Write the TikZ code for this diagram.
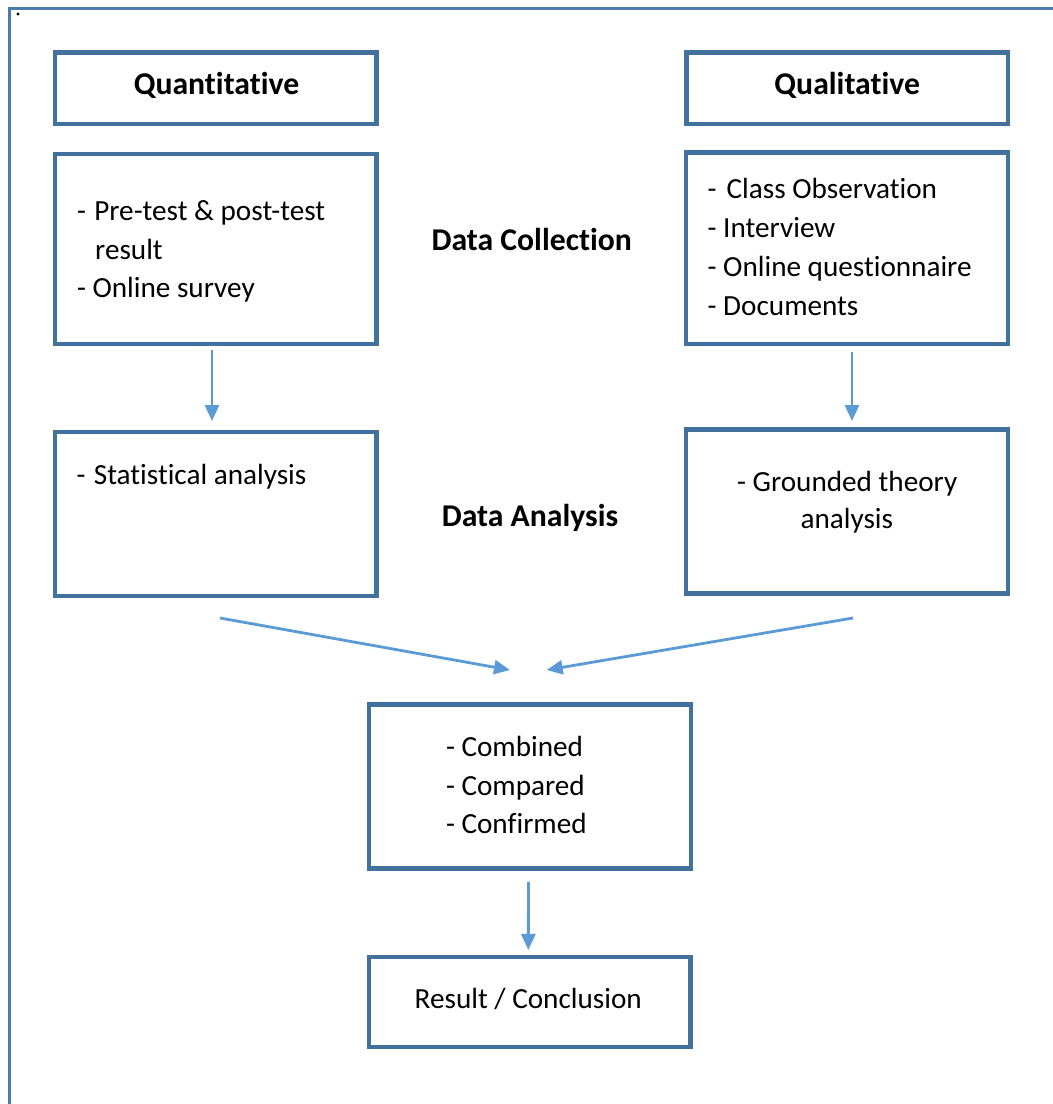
\documentclass[tikz,border=0pt]{standalone}
\usepackage{fontspec}
\setmainfont{Carlito}[Ligatures=NoCommon]
\usetikzlibrary{arrows.meta}
\definecolor{boxblue}{HTML}{41719C}
\definecolor{frameblue}{HTML}{4A7BAE}
\definecolor{arrowblue}{HTML}{5B9BD5}

\begin{document}
\begin{tikzpicture}[x=1pt,y=-1pt,
  panel/.style={draw=boxblue, line width=4.5pt, minimum width=321.7pt, inner sep=0pt},
  head/.style={font=\fontsize{31.7}{38}\selectfont\bfseries, inner sep=0pt},
  item/.style={font=\fontsize{29.2}{38.5}\selectfont, inner sep=0pt, anchor=base west},
  flow/.style={draw=arrowblue, line width=2.8pt, -{Triangle[length=16pt,width=14pt]}},
]
\useasboundingbox (0,0) rectangle (1053,1104);

% page frame and corner mark
\draw[frameblue, line width=3pt] (9.5,1104) -- (9.5,8.7) -- (1053,8.7);
\fill (18,14) circle (1.6);

% boxes
\node[panel, minimum height=71.7pt] (quan) at (215.8,88.3) {};
\node[panel, minimum height=71.7pt] (qual) at (847.2,88.3) {};
\node[panel, minimum height=190pt] (colL) at (215.8,249) {};
\node[panel, minimum height=191.3pt] (colR) at (846.9,248.3) {};
\node[panel, minimum height=163.8pt] (anaL) at (215.8,513.9) {};
\node[panel, minimum height=163.8pt] (anaR) at (846.9,511.4) {};
\node[panel, minimum height=164pt] (merge) at (530,786.5) {};
\node[panel, minimum height=90pt] (result) at (529.8,1002.2) {};

% headings
\node[head, anchor=base] (quanT) at (216.5,94) {Quantitative};
\node[head, anchor=base] (qualT) at (847.2,94) {Qualitative};
\node[head, anchor=base] (lblC) at (531.7,250) {Data Collection};
\node[head, anchor=base] (lblA) at (530,526.7) {Data Analysis};

% data collection
\node[item] (c1) at (76.8,220) {\makebox[17.3pt][l]{-}Pre-test \& post-test};
\node[item] (c2) at (95,259) {result};
\node[item] (c3) at (76.8,297) {- Online survey};
\node[item] (q1) at (707.5,198.3) {\makebox[19pt][l]{-}Class Observation};
\node[item] (q2) at (707.5,237.3) {- Interview};
\node[item] (q3) at (707.5,276.7) {- Online questionnaire};
\node[item] (q4) at (707.5,315) {- Documents};

% data analysis
\node[item] (s1) at (76.5,484.5) {\makebox[17.2pt][l]{-}Statistical analysis};
\node[item, anchor=base] (g1) at (847.2,491) {- Grounded theory};
\node[item, anchor=base] (g2) at (846.8,528.3) {analysis};

% integration and result
\node[item] (m1) at (445.8,756.7) {- Combined};
\node[item] (m2) at (445.8,795) {- Compared};
\node[item] (m3) at (445.8,833.3) {- Confirmed};
\node[item, anchor=base] (r1) at (528.3,1008.3) {Result / Conclusion};

% arrows
\draw[flow, shorten <=3.7pt, shorten >=8.7pt] ([xshift=-3.8pt]colL.south) -- ([xshift=-3.8pt]anaL.north);
\draw[flow, shorten <=5.7pt, shorten >=6.2pt] ([xshift=5.1pt]colR.south) -- ([xshift=5.1pt]anaR.north);
\coordinate (fromL) at (220,618);
\coordinate (fromR) at (853,618);
\coordinate (joinL) at (510,670);
\coordinate (joinR) at (546.7,670);
\draw[flow] (fromL) -- (joinL);
\draw[flow] (fromR) -- (joinR);
\draw[flow, shorten <=11.2pt, shorten >=5pt] ([xshift=-1.5pt]merge.south) -- ([xshift=-1.5pt]result.north);
\end{tikzpicture}
\end{document}
